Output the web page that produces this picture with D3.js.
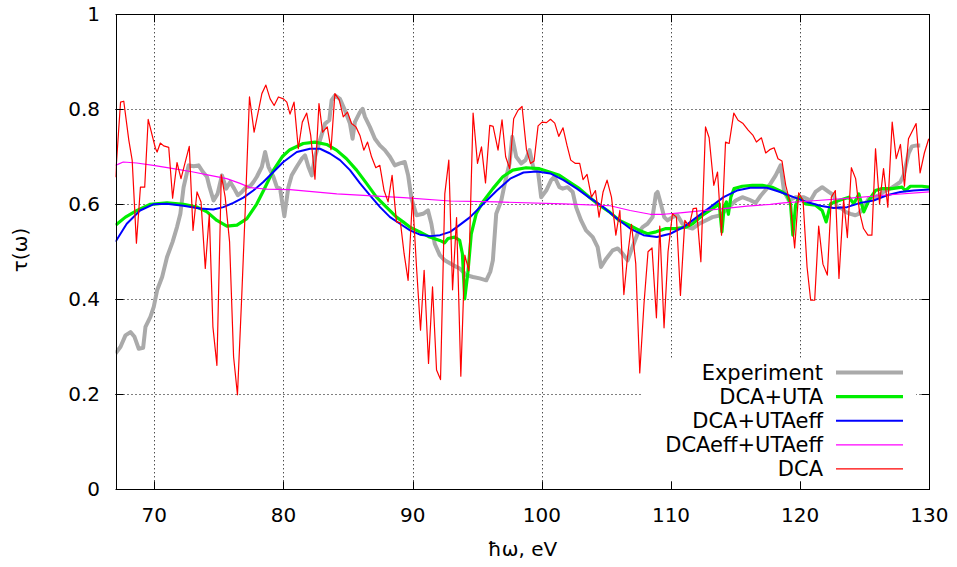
<!DOCTYPE html>
<html><head><meta charset="utf-8">
<script src="https://cdn.jsdelivr.net/npm/d3@7"></script>
<style>body{margin:0;background:#fff}svg{display:block}text{font-family:"DejaVu Sans",sans-serif}</style>
</head><body><svg id="c" width="957" height="567"></svg>
<script>
const xTicks=[70,80,90,100,110,120,130];
const yTicks=[0,0.2,0.4,0.6,0.8,1];
const yTickLabels=["0","0.2","0.4","0.6","0.8","1"];
const seriesNames=["Experiment","DCA+UTA","DCA+UTAeff","DCAeff+UTAeff","DCA"];
const seriesColors=["#aaaaaa","#00ee00","#0000ff","#ff00ff","#ff0000"];
const seriesWidths=[4,3.2,2,1.2,1.2];

const expData=[[67,0.286],[67.39,0.30],[67.77,0.324],[68.16,0.331],[68.47,0.321],[68.8,0.296],[69.14,0.298],[69.32,0.342],[69.7,0.363],[69.96,0.384],[70.22,0.419],[70.61,0.447],[70.99,0.489],[71.42,0.521],[71.76,0.552],[72.02,0.58],[72.27,0.636],[72.66,0.682],[73.05,0.68],[73.43,0.682],[73.77,0.668],[74.08,0.658],[74.28,0.636],[74.59,0.608],[74.9,0.622],[75.24,0.661],[75.57,0.633],[75.88,0.647],[76.19,0.633],[76.47,0.619],[76.78,0.626],[77.12,0.636],[77.42,0.638],[77.68,0.647],[77.94,0.658],[78.33,0.679],[78.58,0.71],[78.84,0.679],[79.22,0.658],[79.49,0.636],[79.74,0.633],[80.07,0.575],[80.38,0.636],[80.64,0.661],[81.03,0.679],[81.42,0.696],[81.67,0.703],[81.93,0.679],[82.19,0.661],[82.44,0.70],[82.83,0.735],[83.22,0.77],[83.55,0.777],[83.73,0.819],[83.99,0.829],[84.37,0.822],[84.76,0.798],[85.15,0.77],[85.35,0.738],[85.53,0.773],[85.92,0.794],[86.13,0.801],[86.31,0.784],[86.69,0.763],[87.08,0.738],[87.46,0.724],[87.85,0.714],[88.24,0.70],[88.62,0.682],[89.01,0.686],[89.39,0.689],[89.65,0.661],[89.91,0.612],[90.3,0.577],[90.81,0.58],[91.19,0.587],[91.45,0.559],[91.71,0.517],[92.1,0.493],[92.48,0.482],[93.12,0.472],[93.64,0.465],[94.16,0.451],[94.67,0.447],[95.19,0.444],[95.7,0.44],[96.01,0.458],[96.21,0.482],[96.47,0.58],[96.86,0.608],[97.19,0.651],[97.5,0.686],[97.71,0.742],[98.02,0.70],[98.41,0.686],[98.74,0.693],[99.05,0.714],[99.36,0.675],[99.69,0.672],[99.95,0.615],[100.34,0.629],[100.72,0.651],[100.98,0.658],[101.36,0.636],[101.62,0.633],[102.0,0.636],[102.39,0.626],[102.65,0.594],[103.04,0.566],[103.42,0.545],[103.94,0.531],[104.32,0.51],[104.58,0.468],[104.97,0.485],[105.48,0.503],[105.87,0.507],[106.25,0.496],[106.64,0.482],[107.02,0.51],[107.41,0.538],[107.8,0.552],[108.18,0.559],[108.57,0.573],[108.83,0.622],[108.96,0.626],[109.21,0.601],[109.47,0.573],[109.73,0.566],[110.11,0.573],[110.5,0.577],[110.88,0.559],[111.27,0.552],[111.66,0.549],[112.17,0.559],[112.69,0.566],[113.2,0.573],[113.85,0.577],[114.49,0.594],[115.01,0.608],[115.52,0.615],[116.03,0.61],[116.55,0.603],[116.94,0.618],[117.32,0.63],[117.71,0.644],[118.1,0.661],[118.48,0.682],[118.74,0.629],[119.12,0.608],[119.64,0.615],[120.28,0.615],[120.8,0.608],[121.18,0.626],[121.7,0.636],[122.21,0.626],[122.6,0.619],[122.85,0.594],[123.24,0.591],[123.5,0.584],[123.89,0.58],[124.27,0.577],[124.53,0.58],[124.92,0.594],[125.3,0.612],[125.69,0.615],[126.07,0.619],[126.59,0.629],[126.98,0.633],[127.36,0.64],[127.75,0.647],[128.0,0.661],[128.39,0.707],[128.65,0.722],[129.03,0.724],[129.29,0.724]];

const dcaUtaData=[[67,0.556],[67.77,0.573],[68.67,0.587],[69.7,0.60],[70.99,0.603],[72.27,0.60],[73.31,0.594],[74.08,0.584],[74.85,0.566],[75.62,0.554],[76.4,0.556],[77.17,0.57],[77.94,0.601],[78.46,0.629],[79.23,0.672],[79.9,0.70],[80.5,0.715],[81.53,0.728],[82.44,0.731],[83.34,0.726],[84.11,0.714],[84.88,0.696],[85.66,0.672],[86.43,0.644],[87.2,0.615],[87.97,0.594],[88.75,0.573],[89.26,0.563],[89.78,0.552],[90.55,0.542],[91.32,0.531],[92.1,0.524],[92.48,0.519],[92.74,0.528],[93.25,0.531],[93.64,0.524],[93.85,0.496],[94.03,0.401],[94.28,0.457],[94.54,0.538],[94.92,0.58],[95.43,0.605],[96.21,0.633],[96.98,0.658],[97.75,0.672],[98.78,0.677],[99.81,0.675],[100.59,0.668],[101.36,0.661],[102.14,0.647],[102.91,0.633],[103.68,0.615],[104.46,0.598],[105.23,0.584],[106.0,0.566],[106.78,0.556],[107.55,0.545],[108.19,0.538],[108.84,0.542],[109.61,0.549],[110.38,0.549],[111.15,0.552],[111.67,0.559],[112.44,0.577],[113.21,0.591],[113.73,0.601],[113.94,0.542],[114.11,0.594],[114.29,0.605],[114.44,0.579],[114.63,0.615],[114.88,0.633],[115.52,0.638],[116.3,0.64],[117.07,0.64],[117.83,0.636],[118.6,0.626],[118.99,0.619],[119.25,0.601],[119.43,0.535],[119.64,0.598],[119.9,0.615],[120.41,0.601],[121.19,0.598],[121.7,0.587],[122.01,0.563],[122.35,0.601],[123.0,0.608],[123.77,0.615],[124.15,0.601],[124.54,0.622],[124.92,0.584],[125.31,0.608],[125.82,0.629],[126.34,0.633],[127.11,0.633],[127.88,0.636],[128.14,0.629],[128.53,0.638],[129.43,0.638],[130,0.636]];

const dcaUtaEffData=[[67,0.521],[67.87,0.559],[68.9,0.587],[69.93,0.60],[70.96,0.601],[72.25,0.597],[73.54,0.591],[74.57,0.589],[75.35,0.594],[76.12,0.603],[76.9,0.614],[77.67,0.629],[78.44,0.647],[79.22,0.668],[79.99,0.689],[81.03,0.71],[82.06,0.717],[82.83,0.717],[83.6,0.707],[84.38,0.693],[85.15,0.672],[85.93,0.644],[86.7,0.619],[87.48,0.594],[88.25,0.573],[89.02,0.559],[89.8,0.545],[90.57,0.536],[91.35,0.533],[92.12,0.535],[92.9,0.542],[93.42,0.552],[94.45,0.573],[95.48,0.601],[96.52,0.629],[97.55,0.654],[98.58,0.667],[99.62,0.669],[100.65,0.665],[101.68,0.651],[102.71,0.633],[103.74,0.613],[104.77,0.594],[105.81,0.57],[106.84,0.549],[107.87,0.535],[108.91,0.531],[109.94,0.538],[110.97,0.552],[112.0,0.573],[113.04,0.594],[114.07,0.615],[115.1,0.629],[116.13,0.635],[117.42,0.635],[118.45,0.626],[119.49,0.615],[120.52,0.605],[121.55,0.597],[122.58,0.592],[123.62,0.594],[124.65,0.603],[125.68,0.608],[126.72,0.619],[127.75,0.626],[128.78,0.629],[130,0.631]];

const dcaEffData=[[67,0.682],[67.6,0.689],[68.64,0.687],[69.93,0.682],[71.48,0.675],[73.02,0.668],[74.32,0.661],[75.61,0.654],[76.64,0.644],[77.42,0.635],[78.71,0.632],[80.51,0.631],[84.13,0.622],[89.29,0.614],[92.9,0.607],[96.52,0.605],[101.68,0.601],[105.29,0.597],[106.84,0.587],[108.39,0.579],[109.42,0.579],[110.71,0.582],[112.26,0.586],[114.07,0.591],[115.88,0.596],[117.69,0.60],[118.71,0.603],[121.3,0.608],[123.88,0.613],[126.46,0.619],[130,0.626]];

const dcaData=[[67.0,0.657],[67.39,0.815],[67.64,0.817],[68.03,0.735],[68.29,0.693],[68.62,0.518],[68.93,0.636],[69.26,0.636],[69.53,0.779],[70.09,0.718],[70.22,0.71],[70.47,0.729],[70.73,0.723],[71.12,0.72],[71.42,0.613],[71.76,0.688],[72.07,0.654],[72.71,0.722],[73.0,0.545],[73.31,0.626],[73.62,0.605],[73.95,0.465],[74.26,0.579],[74.54,0.342],[74.85,0.261],[75.19,0.662],[75.49,0.615],[75.83,0.521],[76.14,0.279],[76.44,0.199],[76.78,0.412],[77.04,0.587],[77.37,0.826],[77.73,0.752],[78.33,0.833],[78.64,0.851],[78.97,0.822],[79.28,0.808],[79.61,0.826],[80.0,0.822],[80.26,0.815],[80.51,0.79],[80.82,0.815],[81.15,0.717],[81.46,0.773],[81.8,0.792],[82.11,0.745],[82.44,0.653],[82.75,0.812],[83.03,0.752],[83.39,0.763],[83.68,0.715],[83.98,0.833],[84.32,0.82],[84.63,0.784],[84.96,0.794],[85.27,0.77],[85.61,0.763],[85.92,0.745],[86.22,0.714],[86.51,0.731],[86.82,0.70],[87.15,0.677],[87.46,0.682],[87.79,0.629],[88.1,0.605],[88.41,0.661],[88.75,0.563],[89.06,0.561],[89.34,0.496],[89.65,0.44],[89.99,0.615],[90.3,0.468],[90.61,0.335],[90.89,0.461],[91.23,0.265],[91.54,0.426],[91.85,0.251],[92.16,0.231],[92.49,0.622],[92.8,0.693],[93.09,0.42],[93.4,0.572],[93.73,0.238],[94.04,0.493],[94.35,0.46],[94.68,0.792],[95.02,0.686],[95.33,0.721],[95.64,0.645],[95.97,0.766],[96.23,0.764],[96.61,0.714],[96.92,0.778],[97.2,0.70],[97.51,0.675],[97.82,0.78],[98.16,0.798],[98.47,0.806],[98.81,0.715],[99.12,0.686],[99.4,0.691],[99.71,0.765],[100.02,0.773],[100.36,0.772],[100.67,0.779],[101.0,0.771],[101.31,0.743],[101.64,0.761],[101.95,0.724],[102.24,0.693],[102.6,0.686],[102.93,0.686],[103.19,0.652],[103.5,0.663],[103.84,0.615],[104.15,0.629],[104.43,0.573],[104.74,0.626],[105.05,0.651],[105.39,0.615],[105.73,0.535],[106.04,0.587],[106.35,0.41],[106.63,0.489],[106.94,0.558],[107.27,0.475],[107.58,0.245],[107.91,0.391],[108.22,0.50],[108.53,0.508],[108.87,0.361],[109.13,0.554],[109.46,0.34],[109.77,0.50],[110.11,0.58],[110.42,0.573],[110.73,0.408],[111.07,0.566],[111.4,0.554],[111.71,0.591],[111.97,0.592],[112.31,0.479],[112.67,0.763],[112.95,0.74],[113.31,0.64],[113.6,0.668],[113.91,0.535],[114.22,0.731],[114.5,0.728],[114.86,0.792],[115.19,0.777],[115.58,0.77],[115.97,0.756],[116.35,0.745],[116.61,0.731],[117.0,0.74],[117.33,0.708],[117.64,0.715],[117.98,0.719],[118.28,0.696],[118.59,0.691],[118.88,0.64],[119.24,0.601],[119.57,0.508],[119.88,0.624],[120.22,0.608],[120.53,0.468],[120.81,0.398],[121.12,0.398],[121.43,0.554],[121.76,0.474],[122.1,0.451],[122.41,0.615],[122.72,0.629],[123.0,0.444],[123.36,0.61],[123.65,0.53],[123.96,0.677],[124.29,0.654],[124.59,0.584],[124.9,0.549],[125.24,0.535],[125.55,0.535],[125.83,0.717],[126.14,0.601],[126.45,0.675],[126.78,0.594],[127.12,0.773],[127.43,0.696],[127.76,0.726],[128.07,0.638],[128.38,0.738],[128.97,0.77],[129.28,0.666],[129.61,0.708],[129.95,0.738]];

const allSeries=[expData,dcaUtaData,dcaUtaEffData,dcaEffData,dcaData];

const svg=d3.select("#c");
const L=115.5,R=929.4,T=14.3,B=489.3;
const x=d3.scaleLinear().domain([67,130]).range([L,R]);
const y=d3.scaleLinear().domain([0,1]).range([B,T]);

// grid
const grid=svg.append("g").attr("stroke","#000").attr("stroke-width",1).attr("stroke-dasharray","1,3");
xTicks.filter(v=>v>67&&v<130).forEach(v=>{
  grid.append("line").attr("x1",Math.round(x(v))+0.5).attr("x2",Math.round(x(v))+0.5).attr("y1",B).attr("y2",T);
});
yTicks.filter(v=>v>0&&v<1).forEach(v=>{
  grid.append("line").attr("y1",Math.round(y(v))+0.5).attr("y2",Math.round(y(v))+0.5).attr("x1",L).attr("x2",R);
});

// data
svg.append("clipPath").attr("id","clip").append("rect").attr("x",L).attr("y",T).attr("width",R-L).attr("height",B-T);
const line=d3.line().x(d=>x(d[0])).y(d=>y(d[1]));
const dg=svg.append("g").attr("clip-path","url(#clip)");
allSeries.forEach((s,i)=>{
  dg.append("path").datum(s).attr("d",line).attr("fill","none")
    .attr("stroke",seriesColors[i]).attr("stroke-width",seriesWidths[i]).attr("stroke-linejoin","round");
});

// legend (opaque)
const lg=svg.append("g");
lg.append("rect").attr("x",643).attr("y",360).attr("width",273).attr("height",122).attr("fill","#fff");
seriesNames.forEach((n,i)=>{
  const yy=372.5+i*24.1;
  lg.append("text").attr("x",823).attr("y",yy+7.5).attr("text-anchor","end").attr("font-size",21).attr("fill","#000").text(n);
  lg.append("line").attr("x1",836).attr("x2",903).attr("y1",yy).attr("y2",yy)
    .attr("stroke",seriesColors[i]).attr("stroke-width",seriesWidths[i]);
});

// axes: ticks inward on all sides
const ax=svg.append("g").attr("stroke","#000").attr("stroke-width",1);
const tl=8;
xTicks.forEach(v=>{
  const px=Math.round(x(v))+0.5;
  ax.append("line").attr("x1",px).attr("x2",px).attr("y1",B).attr("y2",B-tl);
  ax.append("line").attr("x1",px).attr("x2",px).attr("y1",T).attr("y2",T+tl);
});
yTicks.forEach(v=>{
  const py=Math.round(y(v))+0.5;
  ax.append("line").attr("y1",py).attr("y2",py).attr("x1",L).attr("x2",L+tl);
  ax.append("line").attr("y1",py).attr("y2",py).attr("x1",R).attr("x2",R-tl);
});
svg.append("rect").attr("x",Math.round(L)+0.5).attr("y",Math.round(T)+0.5).attr("width",Math.round(R)-Math.round(L)).attr("height",Math.round(B)-Math.round(T))
  .attr("fill","none").attr("stroke","#000").attr("stroke-width",1);

// tick labels
const tg=svg.append("g").attr("font-size",20).attr("fill","#000");
xTicks.forEach(v=>{
  tg.append("text").attr("x",x(v)).attr("y",522).attr("text-anchor","middle").text(String(v));
});
yTicks.forEach((v,i)=>{
  tg.append("text").attr("x",100).attr("y",y(v)+7).attr("text-anchor","end").text(yTickLabels[i]);
});
svg.append("text").attr("x",x(98.5)).attr("y",556).attr("text-anchor","middle").attr("font-size",20).text("ħω, eV");
svg.append("text").attr("transform","translate(27,250) rotate(-90)").attr("text-anchor","middle").attr("font-size",20).text("τ(ω)");
</script></body></html>
